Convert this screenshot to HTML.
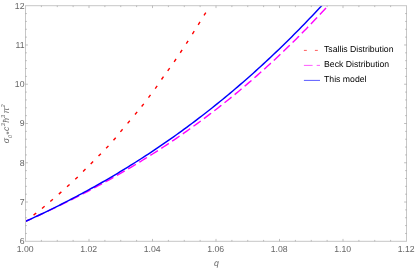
<!DOCTYPE html>
<html><head><meta charset="utf-8"><style>
html,body{margin:0;padding:0;background:#fff;}
body{width:415px;height:269px;position:relative;overflow:hidden;font-family:"Liberation Sans",sans-serif;}
</style></head><body>
<svg width="415" height="269" viewBox="0 0 415 269" style="position:absolute;left:0;top:0;text-rendering:geometricPrecision;will-change:transform">
<defs><clipPath id="c"><rect x="25.5" y="5.7" width="381.0" height="235.60000000000002"/></clipPath></defs>
<g clip-path="url(#c)" fill="none">
<path d="M24.16,222.44 L26.84,220.36 M33.56,215.15 L36.24,213.05 M41.99,208.48 L44.61,206.32 M50.31,201.51 L52.89,199.29 M58.83,194.13 L61.37,191.87 M67.04,186.74 L69.56,184.46 M75.27,179.27 L77.73,176.93 M83.10,171.50 L85.50,169.10 M90.70,163.90 L93.10,161.50 M98.51,156.11 L100.89,153.69 M106.14,148.34 L108.46,145.86 M113.49,140.29 L115.71,137.71 M120.41,131.91 L122.59,129.29 M127.61,123.40 L129.79,120.80 M135.02,114.51 L137.18,111.89 M141.64,106.53 L143.76,103.87 M148.48,97.66 L150.52,94.94 M155.21,88.58 L157.19,85.82 M161.52,79.49 L163.48,76.71 M167.71,70.88 L169.69,68.12 M174.14,61.80 L176.06,59.00 M180.26,52.76 L182.14,49.94 M186.28,43.73 L188.12,40.87 M192.39,34.04 L194.21,31.16 M198.20,24.84 L200.00,21.96 M204.01,15.45 L205.79,12.55" stroke="#ff0000" stroke-width="1.4"/>
<path d="M25.50,221.41 L28.10,220.24 L30.70,219.07 L33.30,217.89 L35.90,216.70 L38.50,215.51 L41.11,214.31 L43.71,213.10 L46.31,211.88 L48.91,210.66 L51.51,209.43 L54.11,208.19 L56.71,206.94 L59.31,205.68 L61.91,204.42 L64.51,203.14 L67.11,201.86 L69.71,200.57 L72.32,199.27 L74.92,197.96 L77.52,196.64 L80.12,195.31 L82.72,193.97 L85.32,192.62 L87.92,191.26 L90.52,189.90 L93.12,188.52 L95.72,187.13 L98.32,185.73 L100.92,184.32 L103.53,182.90 L106.13,181.47 L108.73,180.03 L111.33,178.58 L113.93,177.12 L116.53,175.64 L119.13,174.16 L121.73,172.66 L124.33,171.15 L126.93,169.63 L129.53,168.09 L132.13,166.55 L134.74,164.99 L137.34,163.42 L139.94,161.84 L142.54,160.25 L145.14,158.64 L147.74,157.02 L150.34,155.38 L152.94,153.74 L155.54,152.08 L158.14,150.41 L160.74,148.72 L163.34,147.02 L165.95,145.31 L168.55,143.58 L171.15,141.84 L173.75,140.08 L176.35,138.31 L178.95,136.52 L181.55,134.72 L184.15,132.91 L186.75,131.08 L189.35,129.24 L191.95,127.38 L194.55,125.51 L197.16,123.62 L199.76,121.71 L202.36,119.79 L204.96,117.85 L207.56,115.90 L210.16,113.93 L212.76,111.95 L215.36,109.95 L217.96,107.93 L220.56,105.90 L223.16,103.85 L225.76,101.78 L228.37,99.70 L230.97,97.60 L233.57,95.48 L236.17,93.34 L238.77,91.19 L241.37,89.02 L243.97,86.83 L246.57,84.62 L249.17,82.40 L251.77,80.16 L254.37,77.90 L256.97,75.62 L259.58,73.32 L262.18,71.01 L264.78,68.67 L267.38,66.32 L269.98,63.95 L272.58,61.55 L275.18,59.14 L277.78,56.71 L280.38,54.26 L282.98,51.79 L285.58,49.30 L288.18,46.79 L290.79,44.26 L293.39,41.71 L295.99,39.14 L298.59,36.55 L301.19,33.94 L303.79,31.31 L306.39,28.66 L308.99,25.98 L311.59,23.29 L314.19,20.57 L316.79,17.84 L319.39,15.08 L322.00,12.30 L324.60,9.49 L327.20,6.67 L329.80,3.82 L332.40,0.95 L335.00,-1.94" stroke="#ff00ff" stroke-width="1.4" stroke-dasharray="9.0 4.0" stroke-dashoffset="1.65"/>
<path d="M25.50,221.41 L28.06,220.24 L30.62,219.06 L33.18,217.88 L35.74,216.69 L38.29,215.48 L40.85,214.27 L43.41,213.05 L45.97,211.82 L48.53,210.59 L51.09,209.34 L53.65,208.08 L56.21,206.81 L58.76,205.53 L61.32,204.25 L63.88,202.95 L66.44,201.64 L69.00,200.33 L71.56,199.00 L74.12,197.66 L76.68,196.32 L79.24,194.96 L81.79,193.59 L84.35,192.21 L86.91,190.82 L89.47,189.42 L92.03,188.01 L94.59,186.59 L97.15,185.15 L99.71,183.71 L102.26,182.25 L104.82,180.78 L107.38,179.31 L109.94,177.82 L112.50,176.31 L115.06,174.80 L117.62,173.28 L120.18,171.74 L122.74,170.19 L125.29,168.63 L127.85,167.05 L130.41,165.47 L132.97,163.87 L135.53,162.26 L138.09,160.64 L140.65,159.00 L143.21,157.35 L145.76,155.69 L148.32,154.02 L150.88,152.33 L153.44,150.63 L156.00,148.92 L158.56,147.19 L161.12,145.45 L163.68,143.70 L166.24,141.93 L168.79,140.15 L171.35,138.36 L173.91,136.55 L176.47,134.73 L179.03,132.89 L181.59,131.05 L184.15,129.18 L186.71,127.30 L189.26,125.41 L191.82,123.50 L194.38,121.58 L196.94,119.65 L199.50,117.70 L202.06,115.73 L204.62,113.75 L207.18,111.75 L209.74,109.74 L212.29,107.72 L214.85,105.68 L217.41,103.62 L219.97,101.55 L222.53,99.46 L225.09,97.36 L227.65,95.24 L230.21,93.11 L232.76,90.96 L235.32,88.79 L237.88,86.61 L240.44,84.41 L243.00,82.20 L245.56,79.97 L248.12,77.72 L250.68,75.45 L253.24,73.17 L255.79,70.88 L258.35,68.56 L260.91,66.23 L263.47,63.88 L266.03,61.52 L268.59,59.14 L271.15,56.74 L273.71,54.32 L276.26,51.89 L278.82,49.43 L281.38,46.96 L283.94,44.48 L286.50,41.97 L289.06,39.45 L291.62,36.91 L294.18,34.35 L296.74,31.77 L299.29,29.18 L301.85,26.56 L304.41,23.93 L306.97,21.28 L309.53,18.61 L312.09,15.93 L314.65,13.22 L317.21,10.49 L319.76,7.75 L322.32,4.98 L324.88,2.20 L327.44,-0.60 L330.00,-3.42" stroke="#0000ff" stroke-width="1.45"/>
</g>
<rect x="25.5" y="5.7" width="381.0" height="235.60000000000002" fill="none" stroke="#c6c6c6" stroke-width="1"/>
<path d="M41.38,241.3 v-1.4 M41.38,5.7 v1.4 M57.25,241.3 v-1.4 M57.25,5.7 v1.4 M73.12,241.3 v-1.4 M73.12,5.7 v1.4 M89.00,241.3 v-2.4 M89.00,5.7 v2.4 M104.88,241.3 v-1.4 M104.88,5.7 v1.4 M120.75,241.3 v-1.4 M120.75,5.7 v1.4 M136.62,241.3 v-1.4 M136.62,5.7 v1.4 M152.50,241.3 v-2.4 M152.50,5.7 v2.4 M168.38,241.3 v-1.4 M168.38,5.7 v1.4 M184.25,241.3 v-1.4 M184.25,5.7 v1.4 M200.12,241.3 v-1.4 M200.12,5.7 v1.4 M216.00,241.3 v-2.4 M216.00,5.7 v2.4 M231.88,241.3 v-1.4 M231.88,5.7 v1.4 M247.75,241.3 v-1.4 M247.75,5.7 v1.4 M263.62,241.3 v-1.4 M263.62,5.7 v1.4 M279.50,241.3 v-2.4 M279.50,5.7 v2.4 M295.38,241.3 v-1.4 M295.38,5.7 v1.4 M311.25,241.3 v-1.4 M311.25,5.7 v1.4 M327.12,241.3 v-1.4 M327.12,5.7 v1.4 M343.00,241.3 v-2.4 M343.00,5.7 v2.4 M358.88,241.3 v-1.4 M358.88,5.7 v1.4 M374.75,241.3 v-1.4 M374.75,5.7 v1.4 M390.62,241.3 v-1.4 M390.62,5.7 v1.4 M25.5,233.45 h1.4 M406.5,233.45 h-1.4 M25.5,225.59 h1.4 M406.5,225.59 h-1.4 M25.5,217.74 h1.4 M406.5,217.74 h-1.4 M25.5,209.89 h1.4 M406.5,209.89 h-1.4 M25.5,202.03 h2.4 M406.5,202.03 h-2.4 M25.5,194.18 h1.4 M406.5,194.18 h-1.4 M25.5,186.33 h1.4 M406.5,186.33 h-1.4 M25.5,178.47 h1.4 M406.5,178.47 h-1.4 M25.5,170.62 h1.4 M406.5,170.62 h-1.4 M25.5,162.77 h2.4 M406.5,162.77 h-2.4 M25.5,154.91 h1.4 M406.5,154.91 h-1.4 M25.5,147.06 h1.4 M406.5,147.06 h-1.4 M25.5,139.21 h1.4 M406.5,139.21 h-1.4 M25.5,131.35 h1.4 M406.5,131.35 h-1.4 M25.5,123.50 h2.4 M406.5,123.50 h-2.4 M25.5,115.65 h1.4 M406.5,115.65 h-1.4 M25.5,107.79 h1.4 M406.5,107.79 h-1.4 M25.5,99.94 h1.4 M406.5,99.94 h-1.4 M25.5,92.09 h1.4 M406.5,92.09 h-1.4 M25.5,84.23 h2.4 M406.5,84.23 h-2.4 M25.5,76.38 h1.4 M406.5,76.38 h-1.4 M25.5,68.53 h1.4 M406.5,68.53 h-1.4 M25.5,60.67 h1.4 M406.5,60.67 h-1.4 M25.5,52.82 h1.4 M406.5,52.82 h-1.4 M25.5,44.97 h2.4 M406.5,44.97 h-2.4 M25.5,37.11 h1.4 M406.5,37.11 h-1.4 M25.5,29.26 h1.4 M406.5,29.26 h-1.4 M25.5,21.41 h1.4 M406.5,21.41 h-1.4 M25.5,13.55 h1.4 M406.5,13.55 h-1.4" stroke="#808080" stroke-width="0.5" fill="none"/>
<g font-family="Liberation Sans, sans-serif" font-size="8.7" fill="#666">
<text x="25.20" y="251.8" text-anchor="middle">1.00</text>
<text x="88.70" y="251.8" text-anchor="middle">1.02</text>
<text x="152.20" y="251.8" text-anchor="middle">1.04</text>
<text x="215.70" y="251.8" text-anchor="middle">1.06</text>
<text x="279.20" y="251.8" text-anchor="middle">1.08</text>
<text x="342.70" y="251.8" text-anchor="middle">1.10</text>
<text x="406.20" y="251.8" text-anchor="middle">1.12</text>
<text x="24.5" y="244.20" text-anchor="end">6</text>
<text x="24.5" y="204.93" text-anchor="end">7</text>
<text x="24.5" y="165.67" text-anchor="end">8</text>
<text x="24.5" y="126.40" text-anchor="end">9</text>
<text x="24.5" y="87.13" text-anchor="end">10</text>
<text x="24.5" y="47.87" text-anchor="end">11</text>
<text x="24.5" y="8.60" text-anchor="end">12</text>
<text x="216.4" y="265.7" text-anchor="middle" font-style="italic">q</text>
<text transform="translate(9.4,143.3) rotate(-90)" font-style="italic">σ<tspan font-size="5.6" dy="2.2">0</tspan><tspan dy="0.3">*</tspan><tspan dy="-2.5" dx="0.6">c</tspan><tspan font-size="5.6" dy="-4.9" dx="0.3">3</tspan><tspan dy="4.9" dx="0.4">ħ</tspan><tspan font-size="5.6" dy="-4.9">3</tspan><tspan dy="4.9" dx="1.4">π</tspan><tspan font-size="5.6" dy="-4.9">2</tspan></text>
</g>
<g fill="none" stroke-width="0.65">
<path d="M303.9,50.4 h2.9 M314.9,50.4 h2.9" stroke="#ff0000"/>
<path d="M303.9,65.4 h8.7 M316.7,65.4 h3.3" stroke="#ff00ff"/>
<path d="M303.9,80.4 h16.1" stroke="#0000ff"/>
</g>
<g font-family="Liberation Sans, sans-serif" font-size="8.7" fill="#000">
<text x="324" y="51.8">Tsallis Distribution</text>
<text x="324" y="66.8">Beck Distribution</text>
<text x="324" y="81.8">This model</text>
</g>
</svg>
</body></html>
